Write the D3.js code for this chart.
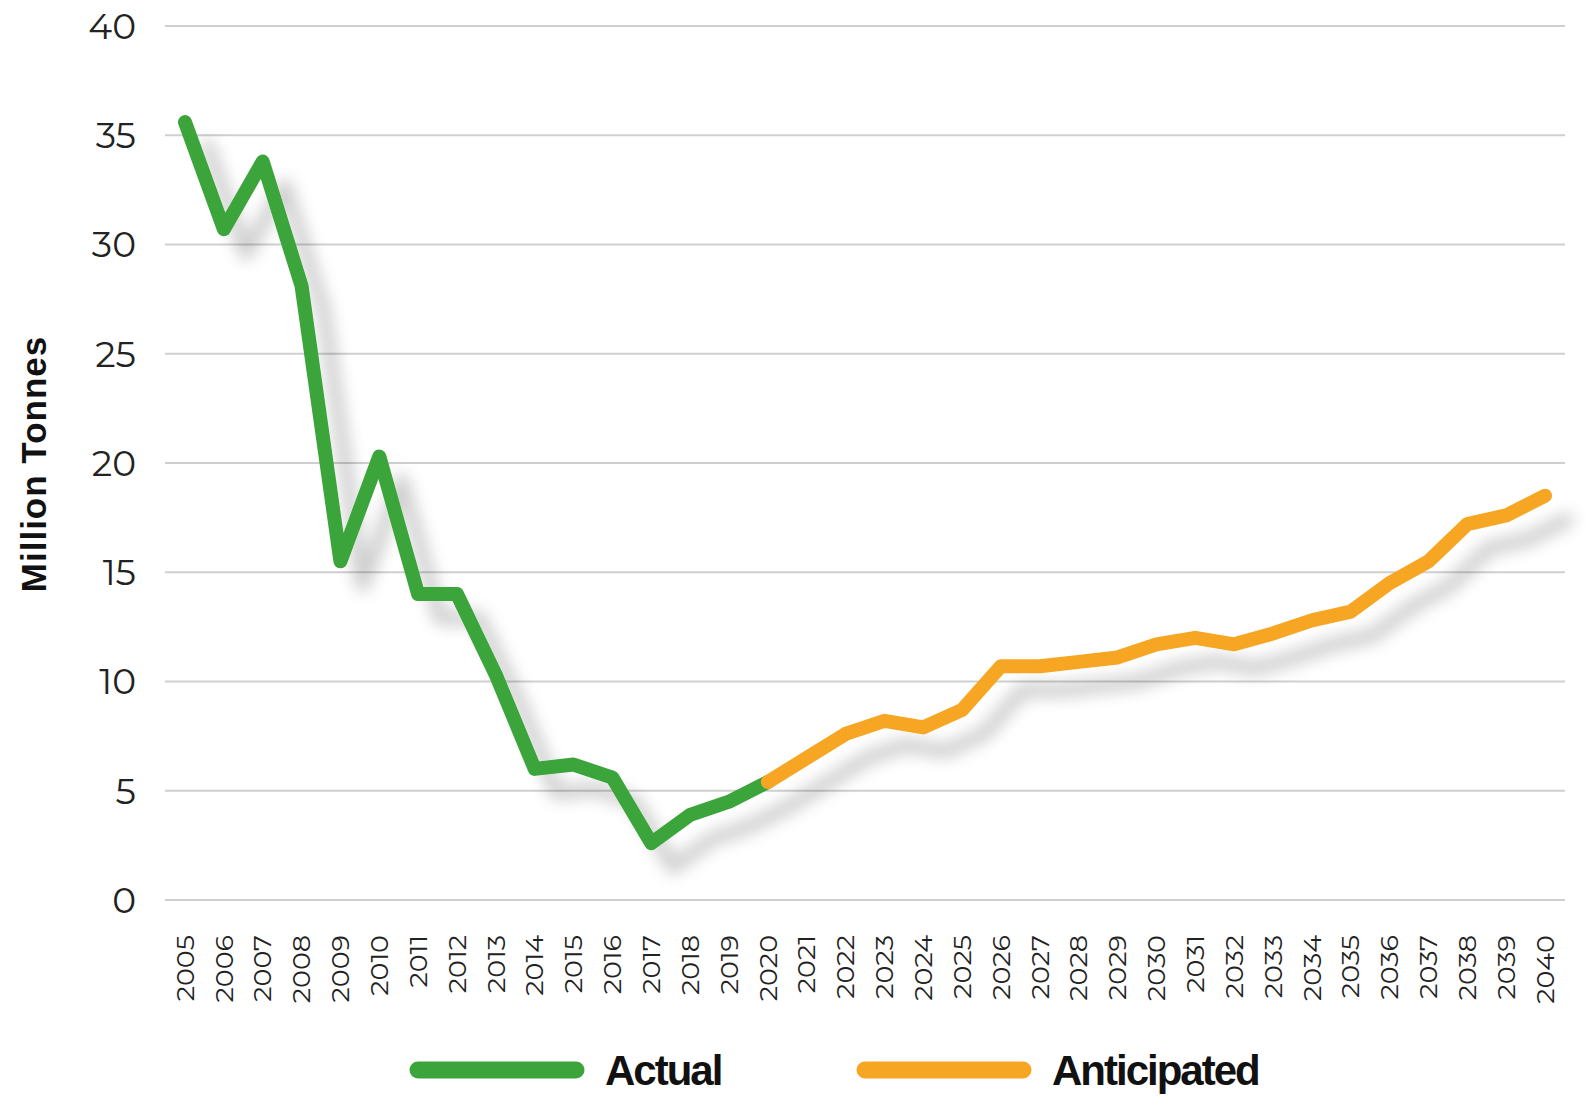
<!DOCTYPE html>
<html>
<head>
<meta charset="utf-8">
<script src="https://cdn.jsdelivr.net/npm/d3@7"></script>
<style>
  body { margin: 0; background: #fff; }
  svg { display: block; }
</style>
</head>
<body>
<div id="chart"></div>
<script>
var years = d3.range(2005, 2041);
var actual = [35.6, 30.7, 33.8, 28.1, 15.5, 20.3, 14.0, 14.0, 10.3, 6.0, 6.2, 5.6, 2.6, 3.9, 4.5, 5.4];
var anticipated = [5.4, 6.5, 7.6, 8.2, 7.9, 8.7, 10.7, 10.7, 10.9, 11.1, 11.7, 12.0, 11.7, 12.2, 12.8, 13.2,
                   14.5, 15.5, 17.2, 17.6, 18.5];
var yTicks = [0, 5, 10, 15, 20, 25, 30, 35, 40];
var legendItems = ['Actual', 'Anticipated'];

var width = 1588, height = 1105;
var green = '#3ba43b', orange = '#f6a623';
var font = 'Montserrat, "DejaVu Sans", sans-serif';
var boldFont = '"Liberation Sans", Arial, sans-serif';

var svg = d3.select('#chart').append('svg')
    .attr('width', width)
    .attr('height', height);

var defs = svg.append('defs');
var filter = defs.append('filter').attr('id', 'shadow')
    .attr('x', '-10%').attr('y', '-10%').attr('width', '130%').attr('height', '130%');
filter.append('feGaussianBlur').attr('in', 'SourceAlpha').attr('stdDeviation', 8).attr('result', 'b');
filter.append('feOffset').attr('in', 'b').attr('dx', 22).attr('dy', 24).attr('result', 'o');
filter.append('feComponentTransfer').attr('in', 'o').attr('result', 's')
    .append('feFuncA').attr('type', 'linear').attr('slope', 0.2);
var merge = filter.append('feMerge');
merge.append('feMergeNode').attr('in', 's');
merge.append('feMergeNode').attr('in', 'SourceGraphic');

var x = d3.scaleLinear().domain([2005, 2040]).range([185, 1545]);
var y = d3.scaleLinear().domain([0, 40]).range([900, 26]);

// grid
svg.append('g').selectAll('line').data(yTicks).enter().append('line')
    .attr('x1', 165).attr('x2', 1565)
    .attr('y1', function (d) { return y(d); })
    .attr('y2', function (d) { return y(d); })
    .style('stroke', '#cfcfcf')
    .style('stroke-width', 2);

// y labels
svg.append('g').selectAll('text').data(yTicks).enter().append('text')
    .attr('x', 136)
    .attr('y', function (d) { return y(d); })
    .attr('dy', '0.36em')
    .attr('text-anchor', 'end')
    .style('font-family', font)
    .style('font-size', '36px')
    .style('fill', '#222')
    .text(function (d) { return d; });

// x labels
svg.append('g').selectAll('text').data(years).enter().append('text')
    .attr('transform', function (d) { return 'translate(' + x(d) + ',935) scale(0.9,1) rotate(-90)'; })
    .attr('dy', '0.36em')
    .attr('text-anchor', 'end')
    .style('font-family', font)
    .style('font-size', '27px')
    .style('fill', '#222')
    .text(function (d) { return d; });

// axis title
svg.append('text')
    .attr('transform', 'translate(33,464) rotate(-90)')
    .attr('dy', '0.36em')
    .attr('text-anchor', 'middle')
    .style('font-family', boldFont)
    .style('font-size', '35px')
    .style('letter-spacing', '1px')
    .style('font-weight', 'bold')
    .style('fill', '#111')
    .text('Million Tonnes');

var line = d3.line()
    .x(function (d) { return x(d[0]); })
    .y(function (d) { return y(d[1]); });

var actualPts = actual.map(function (v, i) { return [years[i], v]; });
var antPts = anticipated.map(function (v, i) { return [2020 + i, v]; });

var lines = svg.append('g').attr('filter', 'url(#shadow)');
lines.append('path').datum(actualPts)
    .attr('d', line)
    .style('fill', 'none')
    .style('stroke', green)
    .style('stroke-width', 14)
    .style('stroke-linejoin', 'round')
    .style('stroke-linecap', 'round');
lines.append('path').datum(antPts)
    .attr('d', line)
    .style('fill', 'none')
    .style('stroke', orange)
    .style('stroke-width', 14)
    .style('stroke-linejoin', 'round')
    .style('stroke-linecap', 'round');

// legend
var lg = svg.append('g').selectAll('g').data(legendItems).enter().append('g')
    .attr('transform', function (d, i) { return 'translate(' + (418 + i * 447) + ',1070)'; });
lg.append('line')
    .attr('x1', 0).attr('x2', 158)
    .style('stroke', function (d, i) { return i ? orange : green; })
    .style('stroke-width', 17)
    .style('stroke-linecap', 'round');
lg.append('text')
    .attr('x', 187)
    .attr('dy', '0.36em')
    .style('font-family', boldFont)
    .style('font-size', '42px')
    .style('letter-spacing', '-2px')
    .style('font-weight', 'bold')
    .style('fill', '#111')
    .text(function (d) { return d; });
</script>
</body>
</html>
